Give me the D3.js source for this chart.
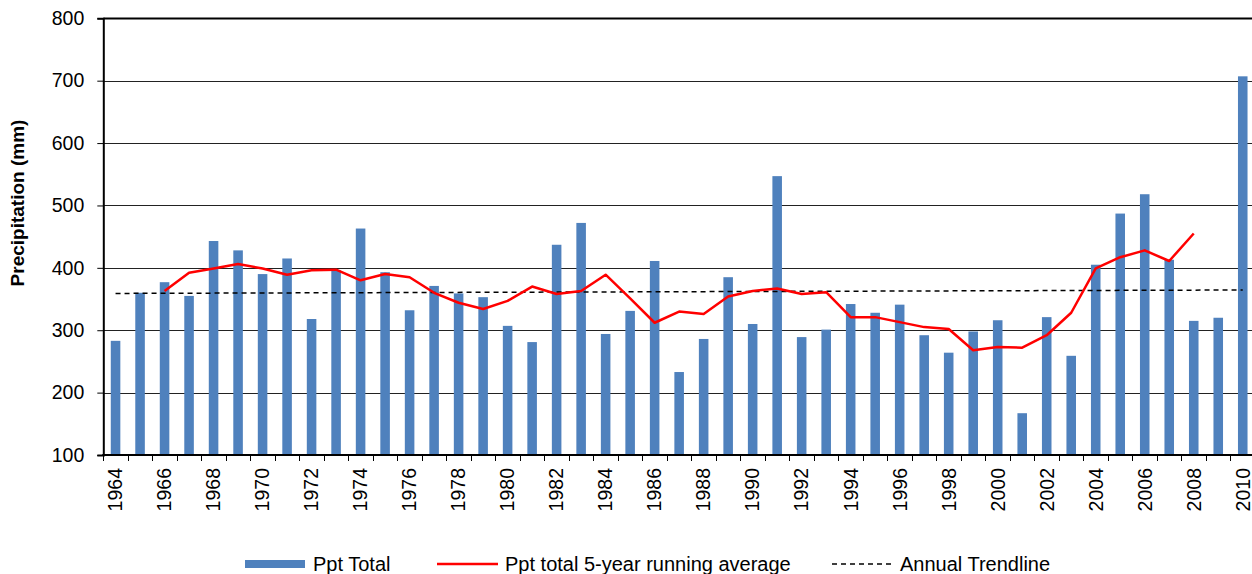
<!DOCTYPE html>
<html>
<head>
<meta charset="utf-8">
<script src="https://cdn.jsdelivr.net/npm/d3@7"></script>
<style>
  body { margin: 0; background: #fff; }
  svg { display: block; font-family: "Liberation Sans", Arial, sans-serif; }
</style>
</head>
<body>
<div id="chart"></div>
<script>
// Annual precipitation (mm)
const years = d3.range(1964, 2011);
const pptTotal = [
  283, 360, 377, 355, 443, 428, 390, 415, 318, 396,
  463, 393, 332, 371, 359, 353, 307, 281, 437, 472,
  294, 331, 411, 233, 286, 385, 310, 547, 289, 301,
  342, 328, 341, 292, 264, 298, 316, 167, 321, 259,
  405, 487, 518, 413, 315, 320, 707
];
// 5-year running average (centred), null where not drawn
const runningAvg = [
  null, null, 363, 392, 399, 406, 399, 389, 396, 397,
  380, 390, 385, 360, 344, 334, 347, 370, 358, 363,
  389, 351, 312, 330, 326, 354, 363, 367, 358, 361,
  321, 321, 313, 305, 302, 268, 273, 272, 292, 328,
  399, 417, 428, 411, 455, null, null
];
const trendYears = [1964, 2010];
const trendValues = [359, 364.5];
const yTicks = [100, 200, 300, 400, 500, 600, 700, 800];
const labelYears = years.filter(y => y % 2 === 0);
const legendItems = ['Ppt Total', 'Ppt total 5-year running average', 'Annual Trendline'];

const width = 1252, height = 574;
const plot = { left: 103.3, right: 1255, top: 18.3, bottom: 455 };

const svg = d3.select('#chart').append('svg')
  .attr('width', width)
  .attr('height', height);

const x = d3.scaleBand().domain(years).range([plot.left, plot.right]).padding(0);
const y = d3.scaleLinear().domain([100, 800]).range([plot.bottom, plot.top]);
const cx = d => x(d) + x.bandwidth() / 2;
const barW = x.bandwidth() * 0.39;

// Gridlines
svg.append('g')
  .selectAll('line')
  .data(yTicks.filter(t => t > 100))
  .join('line')
  .attr('x1', plot.left).attr('x2', width)
  .attr('y1', d => Math.round(y(d)) + 0.5).attr('y2', d => Math.round(y(d)) + 0.5)
  .attr('stroke', d => d === 800 ? '#000' : '#222')
  .attr('stroke-width', d => d === 800 ? 2 : 1);

// Y axis
const yAxis = svg.append('g')
  .attr('transform', `translate(${plot.left},0)`)
  .call(d3.axisLeft(y).tickValues(yTicks).tickSize(6).tickPadding(13).tickFormat(d3.format('d')));
yAxis.select('.domain').attr('stroke', '#000').attr('stroke-width', 2);
yAxis.selectAll('.tick line').attr('stroke', '#000');
yAxis.selectAll('.tick text')
  .attr('x', -19)
  .attr('font-size', '19.5px')
  .attr('fill', '#000')
  .attr('font-family', '"Liberation Sans", Arial, sans-serif');

// Bars
svg.append('g')
  .selectAll('rect')
  .data(years)
  .join('rect')
  .attr('x', (d) => cx(d) - barW / 2)
  .attr('width', barW)
  .attr('y', (d, i) => y(pptTotal[i]))
  .attr('height', (d, i) => y(100) - y(pptTotal[i]))
  .attr('fill', '#4F81BD');

// X axis line
svg.append('line')
  .attr('x1', plot.left - 1).attr('x2', width)
  .attr('y1', plot.bottom).attr('y2', plot.bottom)
  .attr('stroke', '#000').attr('stroke-width', 2);

// X ticks at category boundaries
svg.append('g')
  .selectAll('line')
  .data(years)
  .join('line')
  .attr('x1', d => Math.round(x(d)) + 0.5).attr('x2', d => Math.round(x(d)) + 0.5)
  .attr('y1', plot.bottom).attr('y2', plot.bottom + 6)
  .attr('stroke', '#000');

// X labels
svg.append('g')
  .selectAll('text')
  .data(labelYears)
  .join('text')
  .attr('transform', d => `translate(${cx(d)},${plot.bottom + 13}) rotate(-90)`)
  .attr('text-anchor', 'end')
  .attr('dy', '0.35em')
  .attr('font-size', '19.5px')
  .attr('fill', '#000')
  .text(d => d);

// Trendline
const trendLine = d3.line().x(d => cx(d[0])).y(d => y(d[1]));
svg.append('path')
  .datum(trendYears.map((yr, i) => [yr, trendValues[i]]))
  .attr('d', trendLine)
  .attr('fill', 'none')
  .attr('stroke', '#000')
  .attr('stroke-width', 1.5)
  .attr('stroke-dasharray', '5,4');

// Running average
const avgLine = d3.line()
  .defined(d => d[1] != null)
  .x(d => cx(d[0]))
  .y(d => y(d[1]));
svg.append('path')
  .datum(years.map((yr, i) => [yr, runningAvg[i]]))
  .attr('d', avgLine)
  .attr('fill', 'none')
  .attr('stroke', '#FF0000')
  .attr('stroke-width', 2.5)
  .attr('stroke-linejoin', 'round');

// Y axis title
svg.append('text')
  .attr('transform', 'translate(17.5,203) rotate(-90)')
  .attr('text-anchor', 'middle')
  .attr('dy', '0.35em')
  .attr('font-size', '19px')
  .attr('font-weight', 'bold')
  .text('Precipitation (mm)');

// Legend
const legendX = [245, 437, 832];
const legendY = 564;
const legend = svg.append('g');
legendItems.forEach((label, i) => {
  const g = legend.append('g').attr('transform', `translate(${legendX[i]},${legendY})`);
  if (i === 0) {
    g.append('rect').attr('x', 0).attr('y', -4).attr('width', 60).attr('height', 8).attr('fill', '#4F81BD');
  } else if (i === 1) {
    g.append('line').attr('x1', 0).attr('x2', 61).attr('y1', 0).attr('y2', 0)
      .attr('stroke', '#FF0000').attr('stroke-width', 2.5);
  } else {
    g.append('line').attr('x1', 0).attr('x2', 61).attr('y1', 0).attr('y2', 0)
      .attr('stroke', '#000').attr('stroke-width', 1.5).attr('stroke-dasharray', '5,4');
  }
  g.append('text')
    .attr('x', 68)
    .attr('dy', '0.35em')
    .attr('font-size', '20px')
    .attr('fill', '#000')
    .text(label);
});
</script>
</body>
</html>
